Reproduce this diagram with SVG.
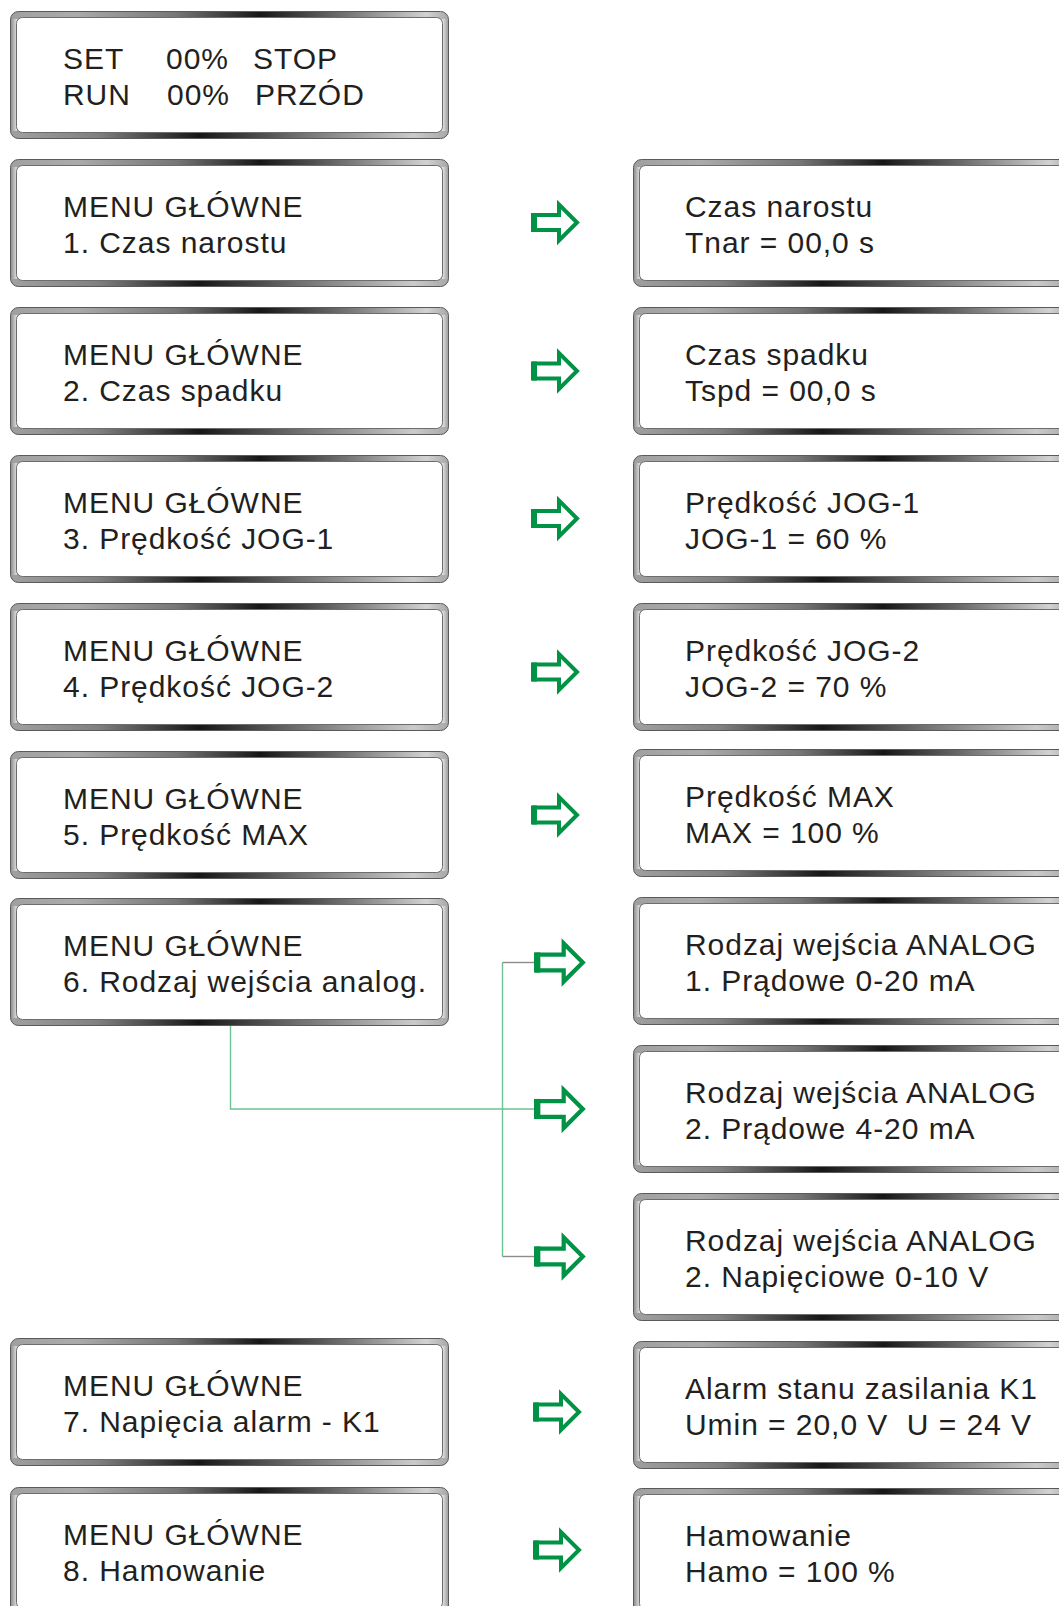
<svg xmlns="http://www.w3.org/2000/svg" xmlns:xlink="http://www.w3.org/1999/xlink" width="1059" height="1606" viewBox="0 0 1059 1606">
<style>
.t{font-family:"Liberation Sans",Arial,sans-serif;font-size:30px;letter-spacing:0.95px;fill:#231f20}
.arr{fill:none;stroke:#009245;stroke-width:4;stroke-linejoin:miter;stroke-miterlimit:10}
.arrL{fill:#009245}
.cg{fill:none;stroke:#6cc493;stroke-width:1.4}
.cy{fill:none;stroke:#8c8c8c;stroke-width:1.4}
</style>
<defs>
<linearGradient id="gt" x1="0" y1="0" x2="1" y2="0">
<stop offset="0" stop-color="#a0a0a0"/>
<stop offset="0.15" stop-color="#ababab"/>
<stop offset="0.38" stop-color="#767676"/>
<stop offset="0.57" stop-color="#161616"/>
<stop offset="0.76" stop-color="#707070"/>
<stop offset="0.95" stop-color="#d2d2d2"/>
<stop offset="1" stop-color="#a8a8a8"/>
</linearGradient>
<linearGradient id="gb" x1="0" y1="0" x2="1" y2="0">
<stop offset="0" stop-color="#a0a0a0"/>
<stop offset="0.2" stop-color="#808080"/>
<stop offset="0.43" stop-color="#161616"/>
<stop offset="0.66" stop-color="#707070"/>
<stop offset="0.92" stop-color="#cacaca"/>
<stop offset="1" stop-color="#a8a8a8"/>
</linearGradient>
<linearGradient id="gsl" x1="0" y1="0" x2="1" y2="0">
<stop offset="0" stop-color="#8a8a8a"/>
<stop offset="1" stop-color="#e2e2e2"/>
</linearGradient>
<linearGradient id="gsr" x1="0" y1="0" x2="1" y2="0">
<stop offset="0" stop-color="#e8e8e8"/>
<stop offset="1" stop-color="#9a9a9a"/>
</linearGradient>
<g id="frame">
<rect x="0.5" y="0.5" width="438" height="127" rx="8" fill="url(#gt)"/>
<path d="M0.5,64 H438.5 V119.5 A8,8 0 0 1 430.5,127.5 H8.5 A8,8 0 0 1 0.5,119.5 Z" fill="url(#gb)"/>
<rect x="0.5" y="8" width="6.5" height="112" fill="url(#gsl)"/>
<rect x="432" y="8" width="6.5" height="112" fill="url(#gsr)"/>
<rect x="0.5" y="0.5" width="438" height="127" rx="8" fill="none" stroke="#5a5a5a" stroke-width="1"/>
<rect x="6.5" y="6.5" width="426" height="115" rx="6" fill="#ffffff" stroke="#6d6d6d" stroke-width="1"/>
</g>
<g id="arrow">
<polygon class="arr" points="3,-7.5 28,-7.5 28,-18 46,0 28,18 28,7.5 3,7.5"/>
<rect class="arrL" x="0" y="-9.5" width="6" height="19"/>
</g>
</defs>

<g id="connectors">
<path class="cg" d="M230.5,1025 V1109 H534"/>
<path class="cg" d="M502.5,962.5 V1256.5"/>
<path class="cy" d="M502.5,962.5 H534"/>
<path class="cy" d="M502.5,1256.5 H534"/>
<use xlink:href="#arrow" transform="translate(531,222.5)"/>
<use xlink:href="#arrow" transform="translate(531,371)"/>
<use xlink:href="#arrow" transform="translate(531,518.5)"/>
<use xlink:href="#arrow" transform="translate(531,672)"/>
<use xlink:href="#arrow" transform="translate(531,815)"/>
<use xlink:href="#arrow" transform="translate(534,962.5) scale(1.06)"/>
<use xlink:href="#arrow" transform="translate(534,1109) scale(1.06)"/>
<use xlink:href="#arrow" transform="translate(534,1256.5) scale(1.06)"/>
<use xlink:href="#arrow" transform="translate(533,1412)"/>
<use xlink:href="#arrow" transform="translate(533,1550)"/>
</g>

<g id="status" transform="translate(10,11)">
<use xlink:href="#frame"/>
<text class="t" y="58"><tspan x="53">SET</tspan><tspan x="156">00%</tspan><tspan x="243">STOP</tspan></text>
<text class="t" y="94"><tspan x="53">RUN</tspan><tspan x="157">00%</tspan><tspan x="245">PRZÓD</tspan></text>
</g>

<g id="menu1" transform="translate(10,159)">
<use xlink:href="#frame"/>
<text class="t" x="53" y="58">MENU GŁÓWNE</text>
<text class="t" x="53" y="94">1. Czas narostu</text>
</g>
<g id="menu2" transform="translate(10,307)">
<use xlink:href="#frame"/>
<text class="t" x="53" y="58">MENU GŁÓWNE</text>
<text class="t" x="53" y="94">2. Czas spadku</text>
</g>
<g id="menu3" transform="translate(10,455)">
<use xlink:href="#frame"/>
<text class="t" x="53" y="58">MENU GŁÓWNE</text>
<text class="t" x="53" y="94">3. Prędkość JOG-1</text>
</g>
<g id="menu4" transform="translate(10,603)">
<use xlink:href="#frame"/>
<text class="t" x="53" y="58">MENU GŁÓWNE</text>
<text class="t" x="53" y="94">4. Prędkość JOG-2</text>
</g>
<g id="menu5" transform="translate(10,751)">
<use xlink:href="#frame"/>
<text class="t" x="53" y="58">MENU GŁÓWNE</text>
<text class="t" x="53" y="94">5. Prędkość MAX</text>
</g>
<g id="menu6" transform="translate(10,898)">
<use xlink:href="#frame"/>
<text class="t" x="53" y="58">MENU GŁÓWNE</text>
<text class="t" x="53" y="94">6. Rodzaj wejścia analog.</text>
</g>
<g id="menu7" transform="translate(10,1338)">
<use xlink:href="#frame"/>
<text class="t" x="53" y="58">MENU GŁÓWNE</text>
<text class="t" x="53" y="94">7. Napięcia alarm - K1</text>
</g>
<g id="menu8" transform="translate(10,1487)">
<use xlink:href="#frame"/>
<text class="t" x="53" y="58">MENU GŁÓWNE</text>
<text class="t" x="53" y="94">8. Hamowanie</text>
</g>

<g id="val1" transform="translate(633,159)">
<use xlink:href="#frame"/>
<text class="t" x="52" y="58">Czas narostu</text>
<text class="t" x="52" y="94">Tnar = 00,0 s</text>
</g>
<g id="val2" transform="translate(633,307)">
<use xlink:href="#frame"/>
<text class="t" x="52" y="58">Czas spadku</text>
<text class="t" x="52" y="94">Tspd = 00,0 s</text>
</g>
<g id="val3" transform="translate(633,455)">
<use xlink:href="#frame"/>
<text class="t" x="52" y="58">Prędkość JOG-1</text>
<text class="t" x="52" y="94">JOG-1 = 60 %</text>
</g>
<g id="val4" transform="translate(633,603)">
<use xlink:href="#frame"/>
<text class="t" x="52" y="58">Prędkość JOG-2</text>
<text class="t" x="52" y="94">JOG-2 = 70 %</text>
</g>
<g id="val5" transform="translate(633,749)">
<use xlink:href="#frame"/>
<text class="t" x="52" y="58">Prędkość MAX</text>
<text class="t" x="52" y="94">MAX = 100 %</text>
</g>
<g id="analog1" transform="translate(633,897)">
<use xlink:href="#frame"/>
<text class="t" x="52" y="58">Rodzaj wejścia ANALOG</text>
<text class="t" x="52" y="94">1. Prądowe 0-20 mA</text>
</g>
<g id="analog2" transform="translate(633,1045)">
<use xlink:href="#frame"/>
<text class="t" x="52" y="58">Rodzaj wejścia ANALOG</text>
<text class="t" x="52" y="94">2. Prądowe 4-20 mA</text>
</g>
<g id="analog3" transform="translate(633,1193)">
<use xlink:href="#frame"/>
<text class="t" x="52" y="58">Rodzaj wejścia ANALOG</text>
<text class="t" x="52" y="94">2. Napięciowe 0-10 V</text>
</g>
<g id="alarm" transform="translate(633,1341)">
<use xlink:href="#frame"/>
<text class="t" x="52" y="58">Alarm stanu zasilania K1</text>
<text class="t" x="52" y="94" xml:space="preserve">Umin = 20,0 V  U = 24 V</text>
</g>
<g id="hamowanie" transform="translate(633,1488)">
<use xlink:href="#frame"/>
<text class="t" x="52" y="58">Hamowanie</text>
<text class="t" x="52" y="94">Hamo = 100 %</text>
</g>
</svg>
